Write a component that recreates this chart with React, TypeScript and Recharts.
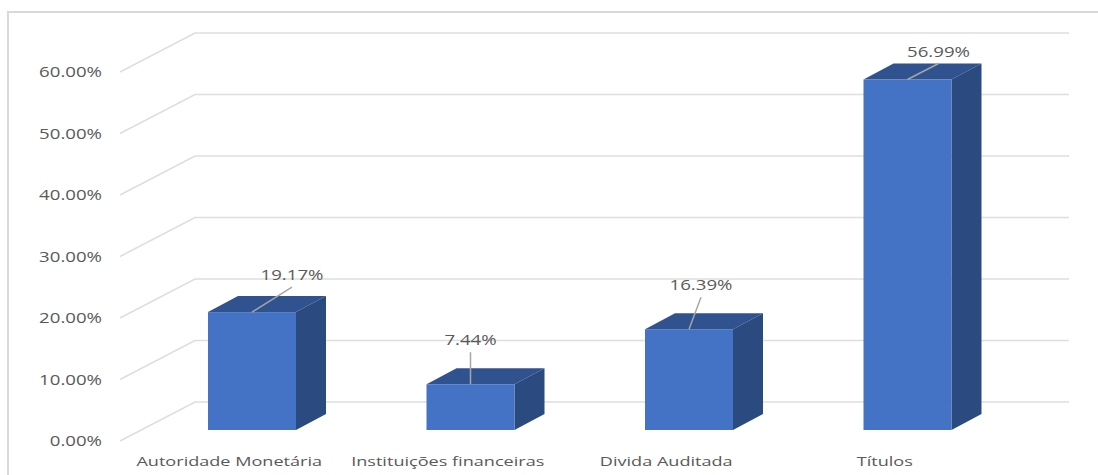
import { BarChart, Bar, XAxis, YAxis, CartesianGrid, LabelList } from 'recharts';

const categories = ['Autoridade Monetária', 'Instituições financeiras', 'Divida Auditada', 'Títulos'];
const shares = [19.17, 7.44, 16.39, 56.99];
const yTicks = [0, 10, 20, 30, 40, 50, 60];

// where each data label sits relative to the top-centre of its bar
const labelOffsets = [
  { dx: 40, dy: -25 },
  { dx: 0, dy: -32 },
  { dx: 12, dy: -32 },
  { dx: 31, dy: -16 },
];

const chartData = categories.map((name, i) => ({ name, share: shares[i] }));

const DEPTH_X = 30;
const DEPTH_Y = 16;
const TEXT_STRETCH = 1.37;
const textColor = '#595959';
const fontFamily = '"Open Sans", sans-serif';

function Box3D({ x, y, width, height }: any) {
  const right = x + width;
  const bottom = y + height;
  return (
    <g>
      <path
        d={`M${x},${y} L${x + DEPTH_X},${y - DEPTH_Y} L${right + DEPTH_X},${y - DEPTH_Y} L${right},${y} Z`}
        fill="#30538f"
      />
      <path
        d={`M${right},${y} L${right + DEPTH_X},${y - DEPTH_Y} L${right + DEPTH_X},${bottom - DEPTH_Y} L${right},${bottom} Z`}
        fill="#2a4a80"
      />
      <rect x={x} y={y} width={width} height={height} fill="#4472c4" />
    </g>
  );
}

// grid runs along the floor/side wall, then across the back wall
function GridLine({ x1, x2, y1 }: any) {
  return (
    <polyline
      points={`${x1 - 23},${y1 + 11} ${x1 + 52},${y1 - 28} ${x2 + 52},${y1 - 28}`}
      fill="none"
      stroke="#dedede"
      strokeWidth={1.5}
    />
  );
}

// labels are drawn wider than the font's natural proportions
function WideText({ x, y, size, anchor, children }: any) {
  return (
    <text
      transform={`translate(${x},${y}) scale(${TEXT_STRETCH},1)`}
      textAnchor={anchor}
      fill={textColor}
      fontSize={size}
      fontFamily={fontFamily}
    >
      {children}
    </text>
  );
}

function YTick({ y, payload }: any) {
  return (
    <WideText x={102} y={y + 16} size={13.6} anchor="end">
      {payload.value.toFixed(2)}%
    </WideText>
  );
}

function XTick({ x, y, payload }: any) {
  return (
    <WideText x={x - 23} y={y + 27.5} size={13.2} anchor="middle">
      {payload.value}
    </WideText>
  );
}

function ValueLabel({ x, y, width, value, index }: any) {
  const off = labelOffsets[index];
  const cx = x + width / 2;
  return (
    <g>
      <line x1={cx} y1={y} x2={cx + off.dx} y2={y + off.dy} stroke="#a6a6a6" strokeWidth={1.5} />
      <WideText x={cx + off.dx} y={y + off.dy - 7} size={13.6} anchor="middle">
        {value.toFixed(2)}%
      </WideText>
    </g>
  );
}

export default function App() {
  return (
    <div style={{ position: 'absolute', left: 0, top: 0, width: 1098, height: 475, overflow: 'hidden', background: '#fff' }}>
      <div style={{ position: 'absolute', left: 7, top: 11, right: 0, bottom: 0, borderLeft: '2px solid #d9d9d9', borderTop: '2px solid #d9d9d9' }} />
      <BarChart
        width={1098}
        height={475}
        data={chartData}
        margin={{ top: 61, right: 81, bottom: 0, left: 0 }}
        barSize={88}
        style={{ position: 'absolute', left: 0, top: 0 }}
      >
        <CartesianGrid vertical={false} horizontal={(props: any) => <GridLine key={props.key} {...props} />} />
        <XAxis dataKey="name" axisLine={false} tickLine={false} height={45} interval={0} tick={<XTick />} />
        <YAxis domain={[0, 60]} ticks={yTicks} width={143} axisLine={false} tickLine={false} tick={<YTick />} />
        <Bar dataKey="share" isAnimationActive={false} shape={<Box3D />}>
          <LabelList dataKey="share" content={<ValueLabel />} />
        </Bar>
      </BarChart>
    </div>
  );
}
